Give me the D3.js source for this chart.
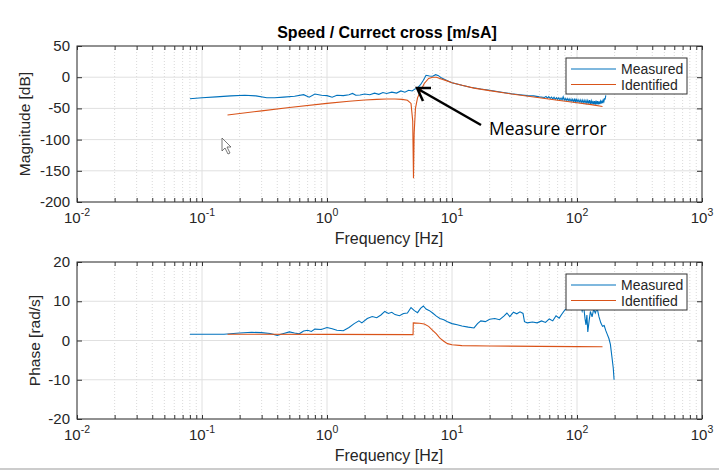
<!DOCTYPE html>
<html>
<head>
<meta charset="utf-8">
<script src="https://cdn.jsdelivr.net/npm/d3@7"></script>
<style>
  body { margin: 0; background: #fff; }
  svg { display: block; font-family: "Liberation Sans", Arial, sans-serif; }
</style>
</head>
<body>
<div id="chart"></div>
<script>
// ---- data ----
var measFreq = [0.08,0.1,0.13,0.17,0.22,0.27,0.33,0.38,0.45,0.55,0.65,0.72,0.8,0.9,1.0,1.1,1.2,1.35,1.5,1.6,1.7,1.84,2.0,2.2,2.4,2.6,2.8,3.0,3.3,3.6,3.9,4.2,4.5,4.8,5.0,5.3,5.6,5.9,6.2,6.6,7.0,7.4,7.8,8.2,9,10,12,14,17,20,25,30,35,40,45,50,
  55,56.5,58,59.5,61,62.5,64,65.5,67,68.5,70,71.5,73,74.5,76,77.5,79,80.5,82,83.5,85,86.5,88,89.5,91,92.5,94,95.5,97,98.5,
  100,102,104,106,108,110,112,114,116,118,120,122,124,126,128,130,132,134,136,138,140,142,144,146,148,150,152,154,156,158,160,162,164,166,168,170];
var measMag = [-34.5,-33,-31.5,-30,-29,-30,-33,-33,-32,-30.5,-28,-32,-27,-29,-29.5,-32,-29,-29.5,-28,-26,-29,-28.5,-27,-28,-25.5,-27.5,-24.5,-26,-24,-25.5,-22,-24,-21,-22,-19.5,-17,-12,-5,3,2,1.5,4,2.5,-1,-5,-9,-13,-16,-19,-21,-24,-26.5,-28,-29.5,-30,-31.5,
  -32.5,-30.8,-33.6,-31.2,-34.1,-31.9,-34.6,-32.2,-35.3,-32.8,-35.6,-33.0,-36.2,-33.4,-36.5,-31.5,-36.9,-34.0,-37.4,-34.3,-37.8,-34.6,-38.3,-35.0,-38.6,-35.2,-39.1,-35.5,-39.4,-34.2,
  -39.8,-36.0,-40.3,-36.3,-40.8,-36.5,-41.2,-36.8,-41.5,-37.0,-42.0,-37.2,-42.4,-36.6,-42.8,-37.8,-43.1,-38.0,-43.5,-38.2,-43.8,-37.6,-43.6,-38.5,-43.4,-38.7,-43.0,-38.4,-42.5,-37.5,-41.5,-36.5,-39.5,-34.5,-35,-29];

var identFreq = [0.16,0.3,0.5,1,1.5,2,2.5,3,3.5,4,4.4,4.7,4.85,4.92,4.98,5.1,5.3,5.6,6,6.5,7,7.5,8,9,10,12,15,20,30,50,70,100,130,160];
var identMag = [-60.5,-54,-48.5,-42,-38.5,-36.5,-35.5,-35,-35,-35.5,-37,-42,-70,-162,-90,-50,-33,-22,-10,-2,0,0,-2,-5.5,-9,-13,-17.5,-21.5,-27,-33,-37,-41,-44,-47];

var measPhFreq = [0.08,0.1,0.15,0.2,0.25,0.3,0.35,0.4,0.45,0.5,0.55,0.6,0.65,0.7,0.75,0.8,0.9,1.0,1.1,1.2,1.35,1.5,1.65,1.8,1.9,2.1,2.3,2.5,2.7,2.9,3.1,3.3,3.5,3.8,4.1,4.4,4.7,5.0,5.3,5.6,5.9,6.2,6.6,7.0,7.5,8.0,8.6,9.2,10,11,12,13.5,15,16,17,18.5,20,22,24,26,27.5,29,31,33,35,37,38,40,44,48,52,56,60,64,68,72,76,80,85,90,95,100,105,110,113,116,118,120,122,125,128,132,136,140,145,150,155,160,165,170,175,180,185,190,195,198];
var measPhase = [1.6,1.6,1.6,1.9,2.1,2.0,1.8,1.3,1.8,2.2,1.9,1.7,2.4,2.6,2.3,2.9,2.8,3.3,3.0,2.6,2.5,3.3,4.3,5.0,4.5,5.6,6.1,5.8,6.5,7.4,6.9,7.2,6.6,6.3,6.9,7.0,8.4,7.6,7.1,8.2,8.8,8.0,7.6,7.0,6.2,5.6,5.3,4.8,4.3,4.0,3.7,3.4,3.2,4.3,5.0,4.8,5.4,5.6,5.3,6.2,7.0,6.1,7.2,6.8,7.3,6.9,4.8,4.5,4.7,4.5,5.0,4.6,5.5,5.0,6.3,5.7,6.8,7.8,8.3,9.0,10.5,11.0,10.0,7.5,8.8,5.5,4.0,6.5,2.2,5.0,7.4,6.0,8.0,7.0,8.2,6.0,4.5,3.6,3.8,2.5,1.5,0.5,-1.0,-4,-7,-10];

var identPhFreq = [0.16,1,4.88,4.9,5.5,6.0,6.5,7.0,7.5,8.0,8.6,9.2,10,12,20,50,100,160];
var identPhase = [1.6,1.55,1.5,4.5,4.4,4.2,3.6,2.6,1.7,0.6,-0.2,-0.8,-1.1,-1.3,-1.4,-1.5,-1.55,-1.6];

var magTicks = [50,0,-50,-100,-150,-200];
var phaseTicks = [20,10,0,-10,-20];
var decades = [-2,-1,0,1,2,3];
var seriesNames = ["Measured","Identified"];

var blue = "#0072BD", red = "#D95319";
var axisColor = "#333333";
var W = 719, H = 470;

var svg = d3.select("#chart").append("svg").attr("width", W).attr("height", H);

var x = d3.scaleLog().domain([0.01, 1000]).range([77, 702]);

var minors = [];
for (var k = -2; k < 3; k++) {
  for (var m = 2; m < 10; m++) minors.push(m * Math.pow(10, k));
}
var majors = decades.map(function(d){ return Math.pow(10, d); });

function drawPanel(top, bottom, yDomain, yTicks, yLabel, yLabelX, series, title) {
  var y = d3.scaleLinear().domain(yDomain).range([bottom, top]);
  var g = svg.append("g");

  // grid
  g.selectAll(".gmin").data(minors).enter().append("line")
    .attr("x1", function(d){ return x(d); }).attr("x2", function(d){ return x(d); })
    .attr("y1", top).attr("y2", bottom)
    .attr("stroke", "#c8c8c8").attr("stroke-width", 0.7).attr("stroke-dasharray", "1,2");
  g.selectAll(".gmaj").data(majors).enter().append("line")
    .attr("x1", function(d){ return x(d); }).attr("x2", function(d){ return x(d); })
    .attr("y1", top).attr("y2", bottom)
    .attr("stroke", "#e0e0e0").attr("stroke-width", 1);
  g.selectAll(".gy").data(yTicks).enter().append("line")
    .attr("x1", 77).attr("x2", 702)
    .attr("y1", function(d){ return y(d); }).attr("y2", function(d){ return y(d); })
    .attr("stroke", "#e0e0e0").attr("stroke-width", 1);

  // lines
  series.forEach(function(s){
    var line = d3.line()
      .x(function(d, i){ return x(s.f[i]); })
      .y(function(d){ return y(d); });
    g.append("path").datum(s.v)
      .attr("d", line)
      .attr("fill", "none")
      .attr("stroke", s.color)
      .attr("stroke-width", 1.1);
  });

  // axes with inward ticks
  var ab = g.append("g").attr("transform", "translate(0," + bottom + ")")
    .call(d3.axisBottom(x).tickValues(majors.concat(minors)).tickFormat("").tickSizeInner(-4).tickSizeOuter(0));
  var at = g.append("g").attr("transform", "translate(0," + top + ")")
    .call(d3.axisTop(x).tickValues(majors.concat(minors)).tickFormat("").tickSizeInner(-4).tickSizeOuter(0));
  var al = g.append("g").attr("transform", "translate(77,0)")
    .call(d3.axisLeft(y).tickValues(yTicks).tickFormat("").tickSizeInner(-5).tickSizeOuter(0));
  var ar = g.append("g").attr("transform", "translate(702,0)")
    .call(d3.axisRight(y).tickValues(yTicks).tickFormat("").tickSizeInner(-5).tickSizeOuter(0));
  [ab, at, al, ar].forEach(function(a){
    a.selectAll("line").attr("stroke", axisColor);
    a.select(".domain").remove();
  });
  g.append("rect").attr("x", 77).attr("y", top).attr("width", 625).attr("height", bottom - top)
    .attr("fill", "none").attr("stroke", axisColor).attr("stroke-width", 1);

  // y tick labels
  g.selectAll(".yl").data(yTicks).enter().append("text")
    .attr("x", 70).attr("y", function(d){ return y(d) + 5; })
    .attr("text-anchor", "end").attr("font-size", 15).attr("fill", "#262626")
    .text(function(d){ return d; });

  // x tick labels 10^k
  var xl = g.selectAll(".xl").data(decades).enter().append("text")
    .attr("x", function(d){ return x(Math.pow(10, d)); })
    .attr("y", bottom + 21)
    .attr("text-anchor", "middle").attr("font-size", 15).attr("fill", "#262626");
  xl.append("tspan").text("10");
  xl.append("tspan").attr("dy", -7).attr("font-size", 10.5).text(function(d){ return d; });

  g.append("text").attr("x", 389).attr("y", bottom + 42)
    .attr("text-anchor", "middle").attr("font-size", 16).attr("fill", "#262626")
    .text("Frequency [Hz]");
  g.append("text")
    .attr("transform", "translate(" + yLabelX + "," + ((top + bottom) / 2) + ") rotate(-90)")
    .attr("text-anchor", "middle").attr("font-size", 15.5).attr("fill", "#262626")
    .text(yLabel);

  if (title) {
    g.append("text").attr("x", 387).attr("y", top - 8)
      .attr("text-anchor", "middle").attr("font-size", 16).attr("font-weight", "bold")
      .attr("fill", "#000").text(title);
  }

  // legend
  var lg = g.append("g").attr("transform", "translate(566," + (top + 12) + ")");
  lg.append("rect").attr("width", 121).attr("height", 36)
    .attr("fill", "#fff").attr("stroke", axisColor).attr("stroke-width", 1);
  seriesNames.forEach(function(n, i){
    lg.append("line").attr("x1", 5).attr("x2", 50)
      .attr("y1", 11 + i * 15.5).attr("y2", 11 + i * 15.5)
      .attr("stroke", series[i].color).attr("stroke-width", 1.1);
    lg.append("text").attr("x", 55).attr("y", 16 + i * 15.5)
      .attr("font-size", 14).attr("fill", "#262626").text(n);
  });
  return y;
}

drawPanel(46, 202, [-200, 50], magTicks, "Magnitude [dB]", 30,
  [{f: measFreq, v: measMag, color: blue}, {f: identFreq, v: identMag, color: red}],
  "Speed / Currect cross [m/sA]");

drawPanel(262, 419, [-20, 20], phaseTicks, "Phase [rad/s]", 40,
  [{f: measPhFreq, v: measPhase, color: blue}, {f: identPhFreq, v: identPhase, color: red}],
  null);

// annotation
svg.append("line").attr("x1", 481).attr("y1", 125).attr("x2", 418).attr("y2", 89)
  .attr("stroke", "#000").attr("stroke-width", 2.5);
svg.append("path").attr("d", "M431,88 L417,88 L423,101")
  .attr("fill", "none").attr("stroke", "#000").attr("stroke-width", 2.5);
svg.append("text").attr("x", 489).attr("y", 135)
  .attr("font-family", "'Open Sans', sans-serif").attr("font-size", 17.5).attr("fill", "#000")
  .text("Measure error");

// mouse cursor left in the screenshot
svg.append("path").attr("d", "M222,138 L222,151 L225,148 L228,154 L230,153 L227,147 L231,147 Z")
  .attr("fill", "#fff").attr("stroke", "#555").attr("stroke-width", 0.8);

// frame line at the bottom of the screenshot
svg.append("line").attr("x1", 0).attr("x2", W).attr("y1", 469).attr("y2", 469)
  .attr("stroke", "#bbb").attr("stroke-width", 1.5);
</script>
</body>
</html>
